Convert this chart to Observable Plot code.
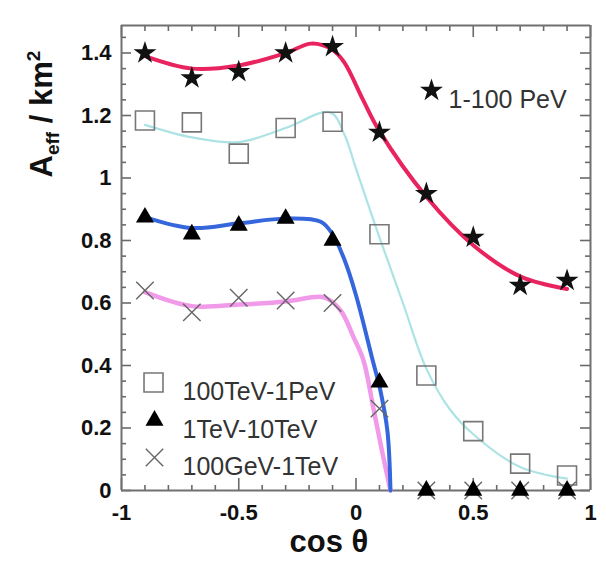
<!DOCTYPE html>
<html><head><meta charset="utf-8">
<script src="https://cdn.jsdelivr.net/npm/d3@7"></script>
<script src="https://cdn.jsdelivr.net/npm/@observablehq/plot@0.6"></script>
<style>body{margin:0;background:#fff;} #chart svg{display:block;}</style>
</head><body><div id="chart"></div>
<script>
// measured points
const cosTheta = [-0.9,-0.7,-0.5,-0.3,-0.1,0.1,0.3,0.5,0.7,0.9];
const aPeV    = [1.40,1.32,1.34,1.40,1.42,1.146,0.95,0.81,0.656,0.672];
const a100TeV = [1.184,1.178,1.078,1.16,1.18,0.82,0.368,0.19,0.086,0.048];
const a1TeV   = [0.874,0.82,0.848,0.87,0.80,0.346,0,0,0,0];
const a100GeV = [0.64,0.57,0.617,0.608,0.60,0.262,0,0,0,0];

// fitted curves
const fitPeVX = [-0.9,-0.7,-0.5,-0.3,-0.19,-0.1,-0.05,0.03,0.1,0.3,0.5,0.7,0.9];
const fitPeVY = [1.39,1.35,1.36,1.40,1.43,1.41,1.37,1.25,1.15,0.94,0.785,0.685,0.645];
const fit100TeVX = [-0.9,-0.7,-0.5,-0.3,-0.11,-0.05,0,0.1,0.2,0.3,0.4,0.5,0.7,0.9];
const fit100TeVY = [1.17,1.13,1.115,1.16,1.21,1.14,1.03,0.81,0.60,0.39,0.26,0.18,0.075,0.038];
const fit1TeVX = [-0.9,-0.7,-0.5,-0.3,-0.15,-0.1,-0.05,0,0.07,0.104,0.134,0.147];
const fit1TeVY = [0.875,0.84,0.855,0.87,0.86,0.82,0.74,0.625,0.42,0.32,0.19,0];
const fit100GeVX = [-0.9,-0.7,-0.5,-0.3,-0.15,-0.109,-0.06,-0.01,0.032,0.075,0.11,0.147];
const fit100GeVY = [0.635,0.59,0.595,0.605,0.62,0.608,0.57,0.49,0.416,0.26,0.13,0];

// axes
const xDomain = [-1, 1];
const yDomain = [0, 1.488];
const xMajorTicks = [-1,-0.5,0,0.5,1];
const xMinorTicks = [-0.9,-0.8,-0.7,-0.6,-0.4,-0.3,-0.2,-0.1,0.1,0.2,0.3,0.4,0.6,0.7,0.8,0.9];
const yMajorTicks = [0,0.2,0.4,0.6,0.8,1,1.2,1.4];
const yMinorTicks = [0.05,0.1,0.15,0.25,0.3,0.35,0.45,0.5,0.55,0.65,0.7,0.75,0.85,0.9,0.95,1.05,1.1,1.15,1.25,1.3,1.35,1.45];

const legendTop = ["1-100 PeV"];
const legendBottom = ["100TeV-1PeV","1TeV-10TeV","100GeV-1TeV"];
const xTitle = "cos θ";

const pts = ys => cosTheta.map((x,i)=>({x, y: ys[i]}));
const fit = (xs, ys) => xs.map((x,i)=>({x, y: ys[i]}));

// tick lengths in pixels converted to data units (plot area 469 x 465 px)
const pxX = (xDomain[1]-xDomain[0]) / 469;
const pxY = (yDomain[1]-yDomain[0]) / 465;
const tk = {stroke:"#6a6a6a", strokeWidth:1.6};

const labStyle = {tickSize:0, label:null, fontSize:22, fontWeight:"bold", fill:"#111", tickFormat:d=>String(d)};
const legText = {frameAnchor:"top-left", text:d=>d, textAnchor:"start", fontSize:25, fill:"#333"};

const plot = Plot.plot({
  width:606, height:563,
  marginLeft:121, marginRight:16, marginTop:25, marginBottom:73,
  style:{fontFamily:"'Liberation Sans', Arial, sans-serif"},
  x:{domain:xDomain},
  y:{domain:yDomain},
  marks:[
    Plot.axisX(xMajorTicks,{anchor:"bottom", tickPadding:14, ...labStyle}),
    Plot.axisY(yMajorTicks,{anchor:"left", tickPadding:10, ...labStyle}),

    // inward ticks on all four sides
    Plot.ruleX(xMinorTicks, {x:d=>d, y1:yDomain[0], y2:yDomain[0]+5*pxY, ...tk}),
    Plot.ruleX(xMajorTicks, {x:d=>d, y1:yDomain[0], y2:yDomain[0]+12*pxY, ...tk}),
    Plot.ruleX(xMinorTicks, {x:d=>d, y1:yDomain[1], y2:yDomain[1]-6*pxY, ...tk}),
    Plot.ruleX(xMajorTicks, {x:d=>d, y1:yDomain[1], y2:yDomain[1]-12*pxY, ...tk}),
    Plot.ruleY(yMinorTicks, {y:d=>d, x1:xDomain[0], x2:xDomain[0]+5*pxX, ...tk}),
    Plot.ruleY(yMajorTicks, {y:d=>d, x1:xDomain[0], x2:xDomain[0]+10*pxX, ...tk}),
    Plot.ruleY(yMinorTicks, {y:d=>d, x1:xDomain[1], x2:xDomain[1]-5*pxX, ...tk}),
    Plot.ruleY(yMajorTicks, {y:d=>d, x1:xDomain[1], x2:xDomain[1]-10*pxX, ...tk}),

    // frame as four rules at the domain edges
    Plot.ruleX(xDomain, {x:d=>d, y1:yDomain[0], y2:yDomain[1], stroke:"#707070", strokeWidth:2}),
    Plot.ruleY(yDomain, {y:d=>d, x1:xDomain[0], x2:xDomain[1], stroke:"#707070", strokeWidth:2}),

    Plot.line(fit(fit100TeVX, fit100TeVY), {x:"x", y:"y", curve:"catmull-rom", stroke:"#ade3e4", strokeWidth:2.2}),
    Plot.line(fit(fit100GeVX, fit100GeVY), {x:"x", y:"y", curve:"catmull-rom", stroke:"#f29aea", strokeWidth:4.5}),
    Plot.line(fit(fit1TeVX, fit1TeVY), {x:"x", y:"y", curve:"catmull-rom", stroke:"#3566dc", strokeWidth:4}),
    Plot.line(fit(fitPeVX, fitPeVY), {x:"x", y:"y", curve:"catmull-rom", stroke:"#e8235d", strokeWidth:4}),

    Plot.dot(pts(a100TeV), {x:"x", y:"y", symbol:"square", r:10.7, fill:"none", stroke:"#777", strokeWidth:1.6}),
    Plot.dot(pts(a100GeV), {x:"x", y:"y", symbol:"times", r:8, stroke:"#666", strokeWidth:1.4}),
    Plot.dot(pts(a1TeV), {x:"x", y:"y", symbol:"triangle", r:6.7, fill:"#000", stroke:"none"}),
    Plot.dot(pts(aPeV), {x:"x", y:"y", symbol:"star", r:7.2, fill:"#111", stroke:"none"}),

    // legends
    Plot.dot(legendTop, {frameAnchor:"top-left", dx:310, dy:65, symbol:"star", r:7.2, fill:"#111", stroke:"none"}),
    Plot.text(legendTop, {...legText, dx:327, dy:65}),
    Plot.dot([legendBottom[0]], {frameAnchor:"top-left", dx:32, dy:357, symbol:"square", r:10.7, fill:"none", stroke:"#777", strokeWidth:1.6}),
    Plot.dot([legendBottom[1]], {frameAnchor:"top-left", dx:33, dy:395, symbol:"triangle", r:6.7, fill:"#000", stroke:"none"}),
    Plot.dot([legendBottom[2]], {frameAnchor:"top-left", dx:33, dy:432, symbol:"times", r:8, stroke:"#666", strokeWidth:1.4}),
    Plot.text([legendBottom[0]], {...legText, dx:61, dy:357}),
    Plot.text([legendBottom[1]], {...legText, dx:61, dy:395}),
    Plot.text([legendBottom[2]], {...legText, dx:61, dy:432}),
  ]
});
document.getElementById("chart").append(plot);

const svg = d3.select(plot);
svg.append("text")
  .attr("x", 329).attr("y", 552)
  .attr("text-anchor","middle")
  .attr("font-family","'Liberation Sans', Arial, sans-serif")
  .attr("font-size", 31).attr("font-weight","bold").attr("fill","#111")
  .text(xTitle);

const yt = svg.append("text")
  .attr("transform","translate(52,114) rotate(-90)")
  .attr("text-anchor","middle")
  .attr("font-family","'Liberation Sans', Arial, sans-serif")
  .attr("font-size", 31).attr("font-weight","bold").attr("fill","#111");
yt.append("tspan").text("A");
yt.append("tspan").attr("dy", 7).attr("font-size", 19).text("eff");
yt.append("tspan").attr("dy", -7).text(" / km");
yt.append("tspan").attr("dy", -12).attr("font-size", 19).text("2");
</script>
</body></html>
